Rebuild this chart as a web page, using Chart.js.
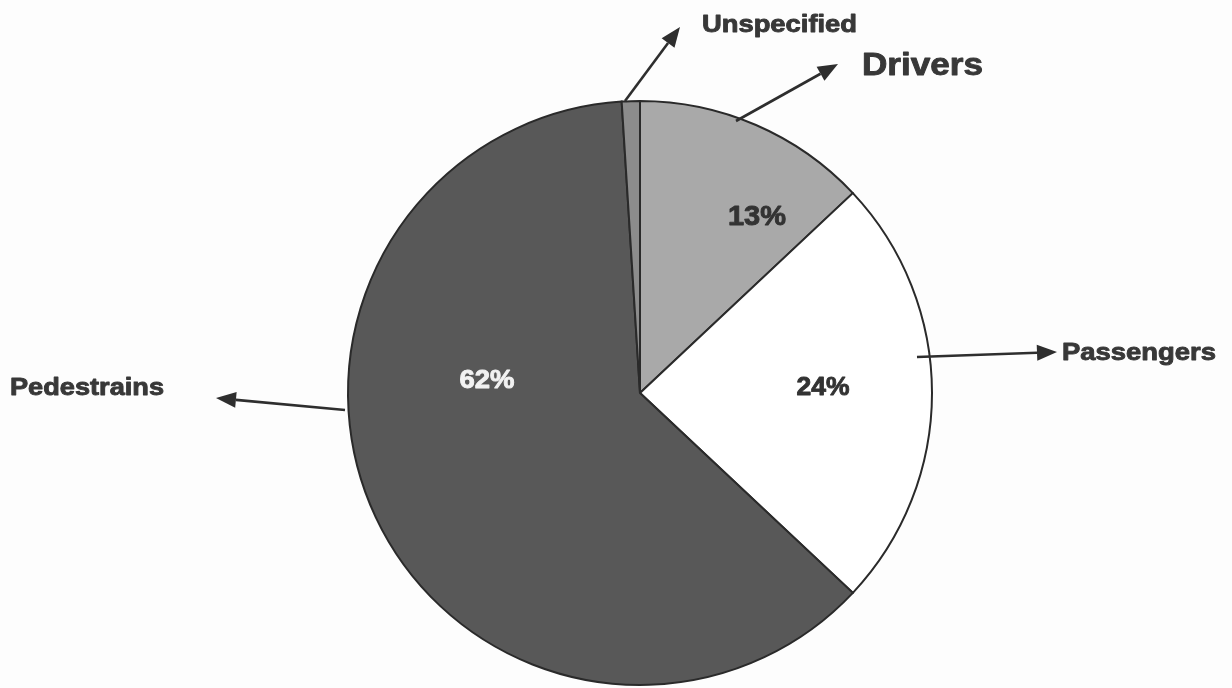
<!DOCTYPE html>
<html>
<head>
<meta charset="utf-8">
<script src="https://cdn.jsdelivr.net/npm/chart.js@4"></script>
<style>
html,body{margin:0;padding:0;background:#fdfdfd;}
#wrap{width:1232px;height:688px;position:relative;}
</style>
</head>
<body>
<div id="wrap"><canvas id="c" width="1232" height="688"></canvas></div>
<script>
const categories = ["Drivers", "Passengers", "Pedestrains", "Unspecified"];
const values = [13, 24, 62, 1];
const percentLabels = ["13%", "24%", "62%", ""];
const sliceColors = ["#a9a9a9", "#ffffff", "#585858", "#8c8c8c"];

// callouts: arrow start/tip relative to pie centre; text left x, baseline y, font size, target width
const callouts = [
  {text: "Unspecified", start: [-15, -292], tip: [40, -366], tx: 702, ty: 32, size: 24, w: 155},
  {text: "Drivers", start: [96, -272], tip: [198, -329], tx: 862, ty: 75, size: 31, w: 121},
  {text: "Passengers", start: [277, -36], tip: [417, -41], tx: 1062, ty: 360, size: 24, w: 154},
  {text: "Pedestrains", start: [-295, 17], tip: [-424, 5], tx: 10, ty: 395, size: 24, w: 154}
];
// percentage label styles: centre x offset from pie centre, baseline offset, size, width, colour
const pctStyle = [
  {dx: 117, dy: -168, size: 27, w: 58, color: "#333333"},
  {dx: 183, dy: 2, size: 26, w: 53, color: "#333333"},
  {dx: -153, dy: -5, size: 26, w: 55, color: "#f2f2f2"},
  null
];

function drawStretched(ctx, text, x, y, size, w, align) {
  ctx.font = "bold " + size + "px 'Liberation Sans', Arial, sans-serif";
  const m = ctx.measureText(text).width;
  const sx = w / m;
  ctx.save();
  ctx.textBaseline = "alphabetic";
  ctx.textAlign = "left";
  const left = align === "center" ? x - w / 2 : x;
  ctx.translate(left, y);
  ctx.scale(sx, 1);
  ctx.strokeStyle = ctx.fillStyle;
  ctx.lineWidth = 0.9;
  ctx.lineJoin = "round";
  ctx.fillText(text, 0, 0);
  ctx.strokeText(text, 0, 0);
  ctx.restore();
}

const annot = {
  id: "annot",
  afterDatasetsDraw(chart) {
    const ctx = chart.ctx;
    const meta = chart.getDatasetMeta(0);
    const a0 = meta.data[0];
    const cx = a0.x, cy = a0.y;
    ctx.save();
    meta.data.forEach((arc, i) => {
      const st = pctStyle[i];
      if (!st || !percentLabels[i]) return;
      ctx.fillStyle = st.color;
      drawStretched(ctx, percentLabels[i], cx + st.dx, cy + st.dy, st.size, st.w, "center");
    });
    callouts.forEach(c => {
      const sx = cx + c.start[0], sy = cy + c.start[1];
      const tx = cx + c.tip[0], ty = cy + c.tip[1];
      const ang = Math.atan2(ty - sy, tx - sx);
      const hl = 20, hw = 8;
      const bx = tx - Math.cos(ang) * hl, by = ty - Math.sin(ang) * hl;
      ctx.strokeStyle = "#2e2e2e";
      ctx.fillStyle = "#2e2e2e";
      ctx.lineWidth = 2.6;
      ctx.beginPath();
      ctx.moveTo(sx, sy);
      ctx.lineTo(bx, by);
      ctx.stroke();
      ctx.beginPath();
      ctx.moveTo(tx, ty);
      ctx.lineTo(bx + Math.sin(ang) * hw, by - Math.cos(ang) * hw);
      ctx.lineTo(bx - Math.sin(ang) * hw, by + Math.cos(ang) * hw);
      ctx.closePath();
      ctx.fill();
      ctx.fillStyle = "#383838";
      drawStretched(ctx, c.text, c.tx, c.ty, c.size, c.w, "left");
    });
    ctx.restore();
  }
};

new Chart(document.getElementById("c"), {
  type: "pie",
  data: {
    labels: categories,
    datasets: [{
      data: values,
      backgroundColor: sliceColors,
      borderColor: "#2a2a2a",
      borderWidth: 2
    }]
  },
  options: {
    responsive: false,
    animation: false,
    layout: {padding: {left: 347, right: 299, top: 100, bottom: 2}},
    plugins: {legend: {display: false}, tooltip: {enabled: false}},
    elements: {arc: {borderJoinStyle: "miter"}}
  },
  plugins: [annot]
});
</script>
</body>
</html>
